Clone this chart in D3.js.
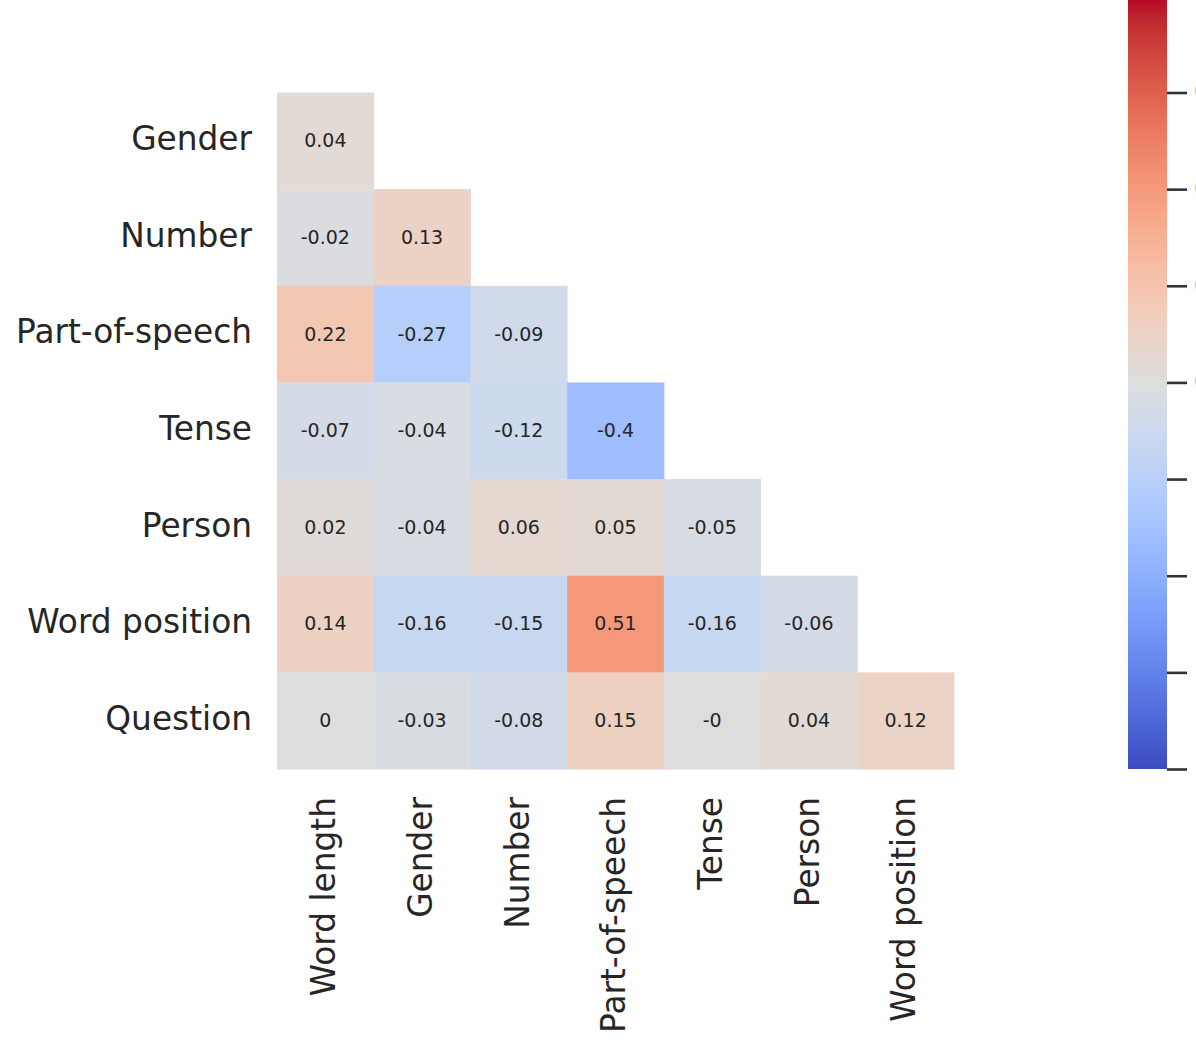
<!DOCTYPE html>
<html>
<head>
<meta charset="utf-8">
<script src="https://cdn.jsdelivr.net/npm/d3@7"></script>
<style>
  html, body { margin: 0; padding: 0; background: #fff; }
  svg { display: block; }
  text { font-family: "DejaVu Sans", sans-serif; fill: #262626; }
</style>
</head>
<body>
<div id="chart"></div>
<script>
// ---- data ----
const rowLabels = ["Gender", "Number", "Part-of-speech", "Tense", "Person", "Word position", "Question"];
const colLabels = ["Word length", "Gender", "Number", "Part-of-speech", "Tense", "Person", "Word position"];
const rowGender       = [0.04];
const rowNumber       = [-0.02, 0.13];
const rowPartOfSpeech = [0.22, -0.27, -0.09];
const rowTense        = [-0.07, -0.04, -0.12, -0.4];
const rowPerson       = [0.02, -0.04, 0.06, 0.05, -0.05];
const rowWordPosition = [0.14, -0.16, -0.15, 0.51, -0.16, -0.06];
const rowQuestion     = [0, -0.03, -0.08, 0.15, -0, 0.04, 0.12];
const matrix = [rowGender, rowNumber, rowPartOfSpeech, rowTense, rowPerson, rowWordPosition, rowQuestion];
const colorDomain = [-1, 1];
const colorbarTicks = [-1, -0.75, -0.5, -0.25, 0, 0.25, 0.5, 0.75, 1];

// matplotlib "coolwarm" (Moreland) control colours
const coolwarmStops = [
  [59,76,192],[68,90,204],[77,104,215],[87,117,225],[98,130,234],[108,142,241],[119,154,247],
  [130,165,251],[141,176,254],[152,185,255],[163,194,255],[174,201,253],[184,208,249],[194,213,244],
  [204,217,238],[213,219,230],[221,221,221],[229,216,209],[236,211,197],[241,204,185],[245,196,173],
  [247,187,160],[247,177,148],[247,166,135],[244,154,123],[241,141,111],[236,127,99],[229,112,88],
  [222,96,77],[213,80,66],[203,62,56],[192,40,47],[180,4,38]
];

// ---- layout ----
const W = 1196, H = 1046;
const svg = d3.select("#chart").append("svg").attr("width", W).attr("height", H);

const n = coolwarmStops.length;
const cmap = d3.scaleLinear()
  .domain(coolwarmStops.map((_, i) => i / (n - 1)))
  .range(coolwarmStops.map(c => d3.rgb(c[0], c[1], c[2]).toString()))
  .interpolate(d3.interpolateRgb)
  .clamp(true);
const norm = d3.scaleLinear().domain(colorDomain).range([0, 1]);
const color = v => cmap(norm(v));

const x = d3.scaleBand().domain(colLabels.map((d, i) => i)).range([277, 954]).padding(0);
const y = d3.scaleBand().domain(rowLabels.map((d, i) => i)).range([92.5, 769]).padding(0);

const cells = [];
matrix.forEach((row, r) => row.forEach((v, c) => cells.push({ r, c, v })));

const fmt = v => Object.is(v, -0) ? "-0" : String(v);

const g = svg.append("g");
g.selectAll("rect.cell").data(cells).join("rect")
  .attr("class", "cell")
  .attr("x", d => x(d.c))
  .attr("y", d => y(d.r))
  .attr("width", x.bandwidth() + 0.5)
  .attr("height", y.bandwidth() + 0.5)
  .attr("fill", d => color(d.v));

g.selectAll("text.annot").data(cells).join("text")
  .attr("class", "annot")
  .attr("x", d => x(d.c) + x.bandwidth() / 2)
  .attr("y", d => y(d.r) + y.bandwidth() / 2)
  .attr("dy", "0.34em")
  .attr("text-anchor", "middle")
  .style("font-size", "19px")
  .text(d => fmt(d.v));

// y labels
svg.selectAll("text.ylab").data(rowLabels).join("text")
  .attr("class", "ylab")
  .attr("x", 252)
  .attr("y", (d, i) => y(i) + y.bandwidth() / 2)
  .attr("dy", "0.28em")
  .attr("text-anchor", "end")
  .style("font-size", "32.8px")
  .text(d => d);

// x labels (rotated)
svg.selectAll("text.xlab").data(colLabels).join("text")
  .attr("class", "xlab")
  .attr("transform", (d, i) => `translate(${x(i) + x.bandwidth() / 2},797) rotate(-90)`)
  .attr("dy", "0.30em")
  .attr("text-anchor", "end")
  .style("font-size", "32.8px")
  .text(d => d);

// ---- colorbar ----
const cbX = 1128, cbW = 39;
const cbScale = d3.scaleLinear().domain(colorDomain).range([769, 769 - (769 - 92.5) * 8 / 7]);
const defs = svg.append("defs");
const grad = defs.append("linearGradient").attr("id", "cbgrad")
  .attr("x1", 0).attr("y1", 1).attr("x2", 0).attr("y2", 0);
grad.selectAll("stop").data(coolwarmStops).join("stop")
  .attr("offset", (d, i) => i / (n - 1))
  .attr("stop-color", d => d3.rgb(d[0], d[1], d[2]).toString());
svg.append("rect")
  .attr("x", cbX).attr("y", cbScale(colorDomain[1]))
  .attr("width", cbW).attr("height", cbScale(colorDomain[0]) - cbScale(colorDomain[1]))
  .attr("fill", "url(#cbgrad)");

const cbAxis = d3.axisRight(cbScale).tickValues(colorbarTicks).tickSize(20).tickPadding(7)
  .tickFormat(d3.format(".2f"));
const ag = svg.append("g").attr("transform", `translate(${cbX + cbW},0)`).call(cbAxis);
ag.select(".domain").remove();
ag.selectAll(".tick line").attr("stroke", "#333").attr("stroke-width", 2.6);
ag.selectAll(".tick text").style("font-size", "26px").style("font-family", "DejaVu Sans").attr("fill", "#262626");
</script>
</body>
</html>
